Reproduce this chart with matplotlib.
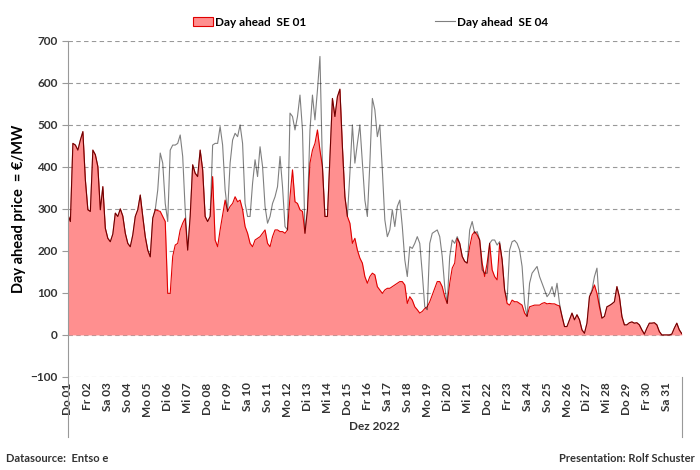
import matplotlib.pyplot as plt
from matplotlib.patches import Patch
import numpy as np

plt.rcParams['font.family'] = ['Lato', 'DejaVu Sans']

# 3-hourly day-ahead prices (EUR/MWh), December 2022
se01_days = [
    [286, 270, 456, 452, 440, 464, 484, 369],
    [298, 294, 440, 429, 401, 298, 353, 254],
    [230, 222, 240, 290, 282, 300, 283, 242],
    [218, 210, 238, 282, 298, 333, 282, 234],
    [202, 186, 278, 298, 296, 294, 282, 270],
    [99, 99, 187, 214, 218, 250, 266, 278],
    [202, 282, 405, 385, 377, 440, 393, 282],
    [270, 282, 377, 226, 210, 250, 286, 321],
    [294, 306, 313, 329, 317, 321, 298, 258],
    [242, 218, 210, 226, 230, 234, 242, 250],
    [218, 210, 234, 250, 250, 246, 246, 242],
    [250, 329, 393, 317, 313, 298, 294, 242],
    [298, 409, 440, 456, 488, 440, 400, 282],
    [282, 425, 563, 520, 567, 585, 448, 329],
    [282, 266, 218, 230, 202, 183, 171, 139],
    [123, 139, 147, 143, 115, 107, 99, 107],
    [111, 111, 115, 119, 123, 127, 127, 119],
    [75, 91, 83, 67, 60, 52, 56, 63],
    [67, 79, 95, 111, 127, 127, 115, 91],
    [75, 123, 159, 171, 230, 218, 187, 175],
    [171, 210, 238, 246, 238, 226, 171, 139],
    [171, 218, 155, 139, 131, 218, 179, 107],
    [75, 71, 83, 79, 79, 75, 71, 52],
    [44, 67, 69, 71, 71, 71, 75, 77],
    [74, 75, 74, 74, 71, 69, 44, 20],
    [20, 36, 52, 36, 48, 36, 12, 4],
    [28, 91, 103, 119, 99, 67, 40, 44],
    [67, 70, 74, 79, 115, 91, 44, 24],
    [24, 29, 31, 28, 29, 24, 12, 2],
    [16, 28, 28, 29, 24, 8, 0, 0],
    [0, 0, 2, 16, 28, 12, 3],
]
se04_days = [
    [286, 270, 456, 452, 440, 464, 484, 369],
    [298, 294, 440, 429, 401, 298, 353, 254],
    [230, 222, 240, 290, 282, 300, 283, 242],
    [218, 210, 238, 282, 298, 333, 282, 234],
    [202, 186, 278, 298, 345, 433, 409, 313],
    [270, 440, 452, 452, 456, 476, 425, 298],
    [202, 282, 405, 385, 377, 440, 393, 282],
    [270, 282, 452, 456, 456, 496, 452, 345],
    [294, 409, 464, 480, 472, 500, 456, 313],
    [282, 282, 361, 417, 377, 448, 401, 306],
    [266, 282, 313, 329, 353, 425, 353, 258],
    [250, 528, 520, 488, 520, 571, 488, 242],
    [298, 488, 571, 512, 583, 663, 400, 282],
    [282, 425, 563, 520, 567, 585, 448, 329],
    [282, 385, 500, 409, 456, 500, 409, 321],
    [282, 409, 563, 536, 472, 500, 393, 274],
    [234, 250, 298, 258, 306, 321, 258, 179],
    [139, 210, 206, 218, 234, 218, 147, 67],
    [60, 218, 242, 246, 250, 234, 187, 115],
    [75, 187, 226, 218, 234, 218, 187, 175],
    [171, 250, 270, 242, 246, 226, 155, 147],
    [147, 218, 226, 226, 214, 222, 179, 107],
    [83, 202, 222, 225, 218, 202, 163, 75],
    [44, 123, 147, 155, 163, 139, 123, 107],
    [91, 99, 115, 91, 123, 75, 44, 20],
    [20, 36, 52, 36, 48, 36, 12, 4],
    [28, 91, 107, 139, 159, 75, 40, 44],
    [67, 70, 74, 79, 115, 91, 44, 24],
    [24, 29, 31, 28, 29, 24, 12, 2],
    [16, 28, 28, 29, 24, 8, 0, 0],
    [0, 0, 2, 16, 28, 12, 3],
]
day_labels = ['Do 01', 'Fr 02', 'Sa 03', 'So 04', 'Mo 05', 'Di 06', 'Mi 07', 'Do 08',
              'Fr 09', 'Sa 10', 'So 11', 'Mo 12', 'Di 13', 'Mi 14', 'Do 15', 'Fr 16',
              'Sa 17', 'So 18', 'Mo 19', 'Di 20', 'Mi 21', 'Do 22', 'Fr 23', 'Sa 24',
              'So 25', 'Mo 26', 'Di 27', 'Mi 28', 'Do 29', 'Fr 30', 'Sa 31']

se01 = np.concatenate(se01_days)
se04 = np.concatenate(se04_days)
hours = np.arange(len(se01)) * 3

fig = plt.figure(figsize=(7, 4.7), dpi=100)
ax = fig.add_axes([0.097, 0.198, 0.877, 0.715])

ax.fill_between(hours, se01, 0, color='#ff8f8f', lw=0)
ax.plot(hours, se01, color='#e00000', lw=0.8)
l4, = ax.plot(hours, se04, color='black', alpha=0.5, lw=0.8)

ax.set_xlim(0, hours[-1])
ax.set_ylim(-100, 700)
ax.set_yticks(range(-100, 701, 100))
ax.grid(axis='y', color='#999999', ls=(0, (4, 3)), lw=0.8)
ax.set_axisbelow(True)
for s in ['top', 'right', 'bottom']:
    ax.spines[s].set_visible(False)
ax.spines['left'].set_color('#999999')
ax.tick_params(axis='y', length=4, color='#999999', labelsize=8.5, labelcolor='#333333')
for t in ax.get_yticklabels():
    t.set_fontweight('bold')

ax.set_xticks(np.arange(len(day_labels)) * 24)
ax.set_xticklabels(day_labels, rotation=90, fontsize=8.5, fontweight='bold', color='#333333')
ax.tick_params(axis='x', length=0, pad=4)

ax.set_ylabel('Day ahead price  = €/MW', fontsize=10.5, fontweight='bold', labelpad=3)

# group divider lines below the axis
fig.add_artist(plt.Line2D([0.097, 0.097], [0.198, 0.07], color='#999999', lw=0.8))
fig.add_artist(plt.Line2D([0.974, 0.974], [0.198, 0.07], color='#999999', lw=0.8))
fig.text(0.535, 0.085, 'Dez 2022', ha='center', fontsize=8.5, fontweight='bold', color='#333333')

fig.text(0.008, 0.017, 'Datasource:  Entso e', fontsize=8, fontweight='bold', color='#333333')
fig.text(0.993, 0.017, 'Presentation: Rolf Schuster', ha='right', fontsize=8, fontweight='bold', color='#333333')

red_patch = Patch(facecolor='#ff8f8f', edgecolor='#e00000', lw=0.8)
fig.legend([red_patch, l4], ['Day ahead  SE 01', 'Day ahead  SE 04'],
           loc='center', bbox_to_anchor=(0.529, 0.953), ncol=2, frameon=False,
           columnspacing=10.9, handlelength=1.7, handleheight=0.9, handletextpad=0.15,
           prop={'family': ['Liberation Sans Narrow', 'Lato'], 'weight': 'bold', 'size': 8.5})

plt.savefig('out.png')
